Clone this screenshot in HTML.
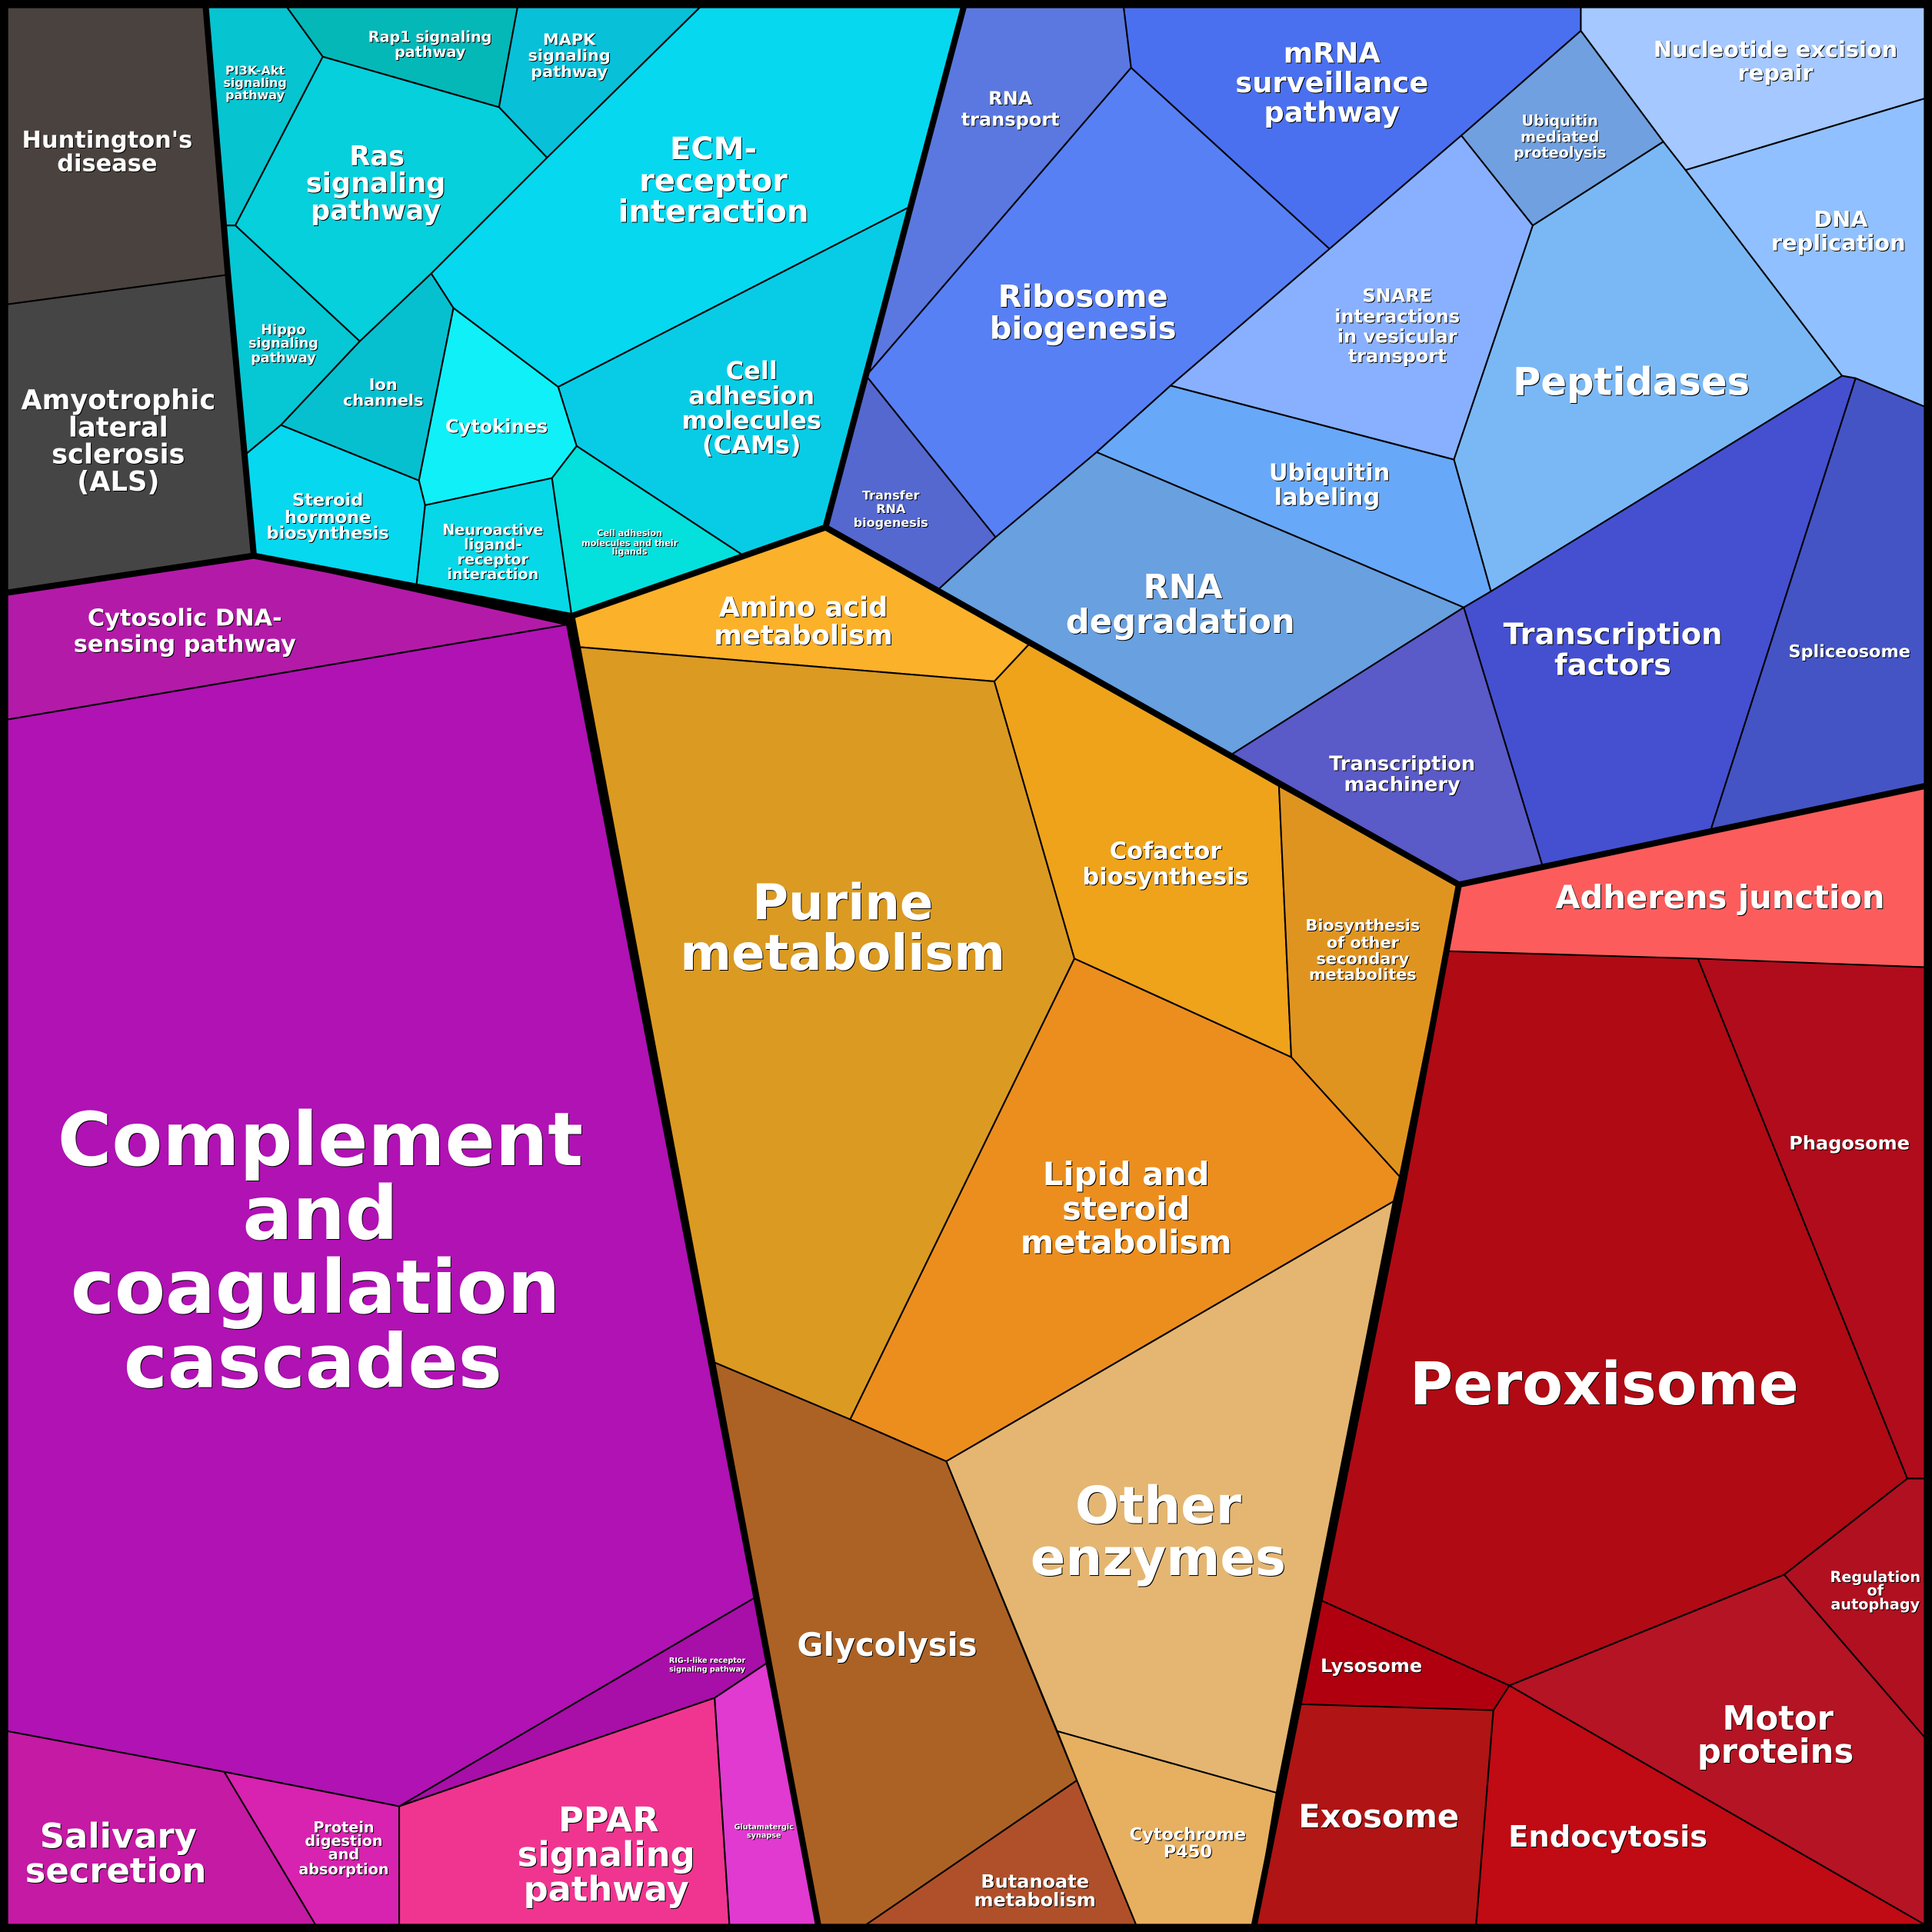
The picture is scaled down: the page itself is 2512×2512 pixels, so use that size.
<!DOCTYPE html>
<html><head><meta charset="utf-8"><style>
html,body{margin:0;padding:0;background:#000;}
svg{display:block;}
text{font-family:"DejaVu Sans","Liberation Sans",sans-serif;font-weight:bold;fill:#fff;text-anchor:middle;dominant-baseline:central;text-shadow:1px 1px 0 #000;}
.t polygon{stroke:#000;stroke-width:1.3;stroke-linejoin:round;}
.g{fill:none;stroke:#000;stroke-width:5;stroke-linejoin:round;}
</style></head><body>
<svg width="2512" height="2512" viewBox="0 0 1568 1568" xmlns="http://www.w3.org/2000/svg">
<rect width="1568" height="1568" fill="#000"/>
<g class="t">
<polygon fill="#4a423e" points="6,6 167,6 185,223 6,247"/>
<polygon fill="#454545" points="6,247 185,223 206,451 6,481"/>
<polygon fill="#06c4d0" points="167,6 233,6 262,46 191,183 182,183"/>
<polygon fill="#04b8b8" points="233,6 420,6 405,87 262,46"/>
<polygon fill="#08c0d8" points="420,6 568,6 444,128 405,87"/>
<polygon fill="#05d0dc" points="262,46 405,87 444,128 350,222 292,277 191,183"/>
<polygon fill="#05c8d4" points="182,183 191,183 292,277 228,345 199,369"/>
<polygon fill="#06d8f0" points="568,6 782,6 738,168 453,314 368,250 350,222 444,128"/>
<polygon fill="#08cce6" points="738,168 670,428 602,450 468,362 453,314"/>
<polygon fill="#06c0d0" points="292,277 350,222 368,250 340,390 228,345"/>
<polygon fill="#10f0f8" points="368,250 453,314 468,362 448,388 345,410 340,390"/>
<polygon fill="#06d8f0" points="199,369 228,345 340,390 345,410 338,475 206,451"/>
<polygon fill="#06d8e8" points="345,410 448,388 464,500 338,475"/>
<polygon fill="#04e0dc" points="448,388 468,362 602,450 670,428 464,500"/>
<polygon fill="#5a78e0" points="782,6 912,6 918,55 703,305"/>
<polygon fill="#4a70f0" points="912,6 1283,6 1283,25 1186,110 1079,202 918,55"/>
<polygon fill="#5880f5" points="918,55 1079,202 950,313 890,367 808,436 703,305"/>
<polygon fill="#5468d0" points="703,305 808,436 762,478 670,428"/>
<polygon fill="#70a0e0" points="1186,110 1283,25 1350,115 1244,183"/>
<polygon fill="#88b0ff" points="1079,202 1186,110 1244,183 1180,373 950,313"/>
<polygon fill="#7ab8f5" points="1244,183 1350,115 1368,138 1495,305 1210,480 1180,373"/>
<polygon fill="#a4c8ff" points="1283,6 1562,6 1562,80 1368,138 1350,115 1283,25"/>
<polygon fill="#90c0ff" points="1368,138 1562,80 1562,330 1506,307 1495,305"/>
<polygon fill="#68a8f8" points="950,313 1180,373 1210,480 1188,493 890,367"/>
<polygon fill="#68a0e0" points="890,367 1188,493 1000,612 762,478 808,436"/>
<polygon fill="#5a5ac8" points="1000,612 1188,493 1252,703 1184,718"/>
<polygon fill="#4450d0" points="1188,493 1210,480 1495,305 1506,307 1388,675 1252,703"/>
<polygon fill="#4454c4" points="1506,307 1562,330 1562,638 1388,675"/>
<polygon fill="#fbb12a" points="464,500 670,428 836,522 807,553 468,525"/>
<polygon fill="#db9a22" points="468,525 807,553 872,778 690,1152 578,1105"/>
<polygon fill="#eea31a" points="807,553 836,522 1038,638 1048,858 872,778"/>
<polygon fill="#e09420" points="1038,638 1184,718 1136,955 1048,858"/>
<polygon fill="#eb8e1e" points="872,778 1048,858 1136,955 1131,975 768,1186 690,1152"/>
<polygon fill="#e4b672" points="768,1186 1131,975 1036,1455 858,1405"/>
<polygon fill="#ac6224" points="578,1105 690,1152 768,1186 874,1445 703,1562 664,1562"/>
<polygon fill="#b0502a" points="703,1562 874,1445 922,1562"/>
<polygon fill="#e6b060" points="858,1405 1036,1455 1018,1562 922,1562 874,1445"/>
<polygon fill="#b31aa8" points="6,481 206,451 460,507 6,584"/>
<polygon fill="#b012b4" points="6,584 460,507 612,1297 324,1466 182,1438 6,1405"/>
<polygon fill="#a80ea8" points="324,1466 612,1297 622,1350 580,1378"/>
<polygon fill="#c41aa4" points="6,1405 182,1438 256,1562 6,1562"/>
<polygon fill="#d822b0" points="182,1438 324,1466 324,1562 256,1562"/>
<polygon fill="#f03590" points="324,1466 580,1378 592,1562 324,1562"/>
<polygon fill="#e03ad0" points="580,1378 622,1350 664,1562 592,1562"/>
<polygon fill="#fc5c5c" points="1184,718 1562,638 1562,785 1175,772"/>
<polygon fill="#b00a14" points="1175,772 1378,778 1548,1200 1448,1278 1225,1368 1068,1297 1136,975"/>
<polygon fill="#b00c1c" points="1378,778 1562,785 1562,1200 1548,1200"/>
<polygon fill="#b01020" points="1548,1200 1562,1200 1562,1410 1448,1278"/>
<polygon fill="#b41424" points="1225,1368 1448,1278 1562,1410 1562,1562"/>
<polygon fill="#c00a14" points="1212,1388 1225,1368 1562,1562 1198,1562"/>
<polygon fill="#b00010" points="1068,1297 1225,1368 1212,1388 1052,1383"/>
<polygon fill="#b01414" points="1052,1383 1212,1388 1198,1562 1018,1562"/>
</g>
<polyline class="g" points="6,481 206,451 185,223 167,6"/>
<polyline class="g" points="206,451 464,500 670,428 782,6"/>
<polyline class="g" points="464,500 664,1562"/>
<polyline class="g" points="670,428 1184,718 1562,638"/>
<polyline class="g" points="1184,718 1136,975 1018,1562"/>
<rect x="3" y="3" width="1562" height="1562" fill="none" stroke="#000" stroke-width="7"/>
<g font-size="19"><text x="87" y="114">Huntington's</text><text x="87" y="133">disease</text></g>
<g font-size="22"><text x="96" y="325">Amyotrophic</text><text x="96" y="347">lateral</text><text x="96" y="369">sclerosis</text><text x="96" y="391">(ALS)</text></g>
<g font-size="19"><text x="150" y="502">Cytosolic DNA-</text><text x="150" y="523">sensing pathway</text></g>
<g font-size="60"><text x="260" y="925">Complement</text><text x="260" y="985">and</text><text x="256" y="1045">coagulation</text><text x="254" y="1105">cascades</text></g>
<g font-size="28"><text x="96" y="1490">Salivary</text><text x="94" y="1518">secretion</text></g>
<g font-size="12"><text x="279" y="1483">Protein</text><text x="279" y="1494">digestion</text><text x="279" y="1505">and</text><text x="279" y="1517">absorption</text></g>
<g font-size="28"><text x="494" y="1477">PPAR</text><text x="492" y="1505">signaling</text><text x="492" y="1533">pathway</text></g>
<g font-size="6"><text x="620" y="1483">Glutamatergic</text><text x="620" y="1490">synapse</text></g>
<g font-size="6"><text x="574" y="1348">RIG-I-like receptor</text><text x="574" y="1355">signaling pathway</text></g>
<g font-size="10"><text x="207" y="57">PI3K-Akt</text><text x="207" y="67">signaling</text><text x="207" y="77">pathway</text></g>
<g font-size="12"><text x="349" y="30">Rap1 signaling</text><text x="349" y="42">pathway</text></g>
<g font-size="13"><text x="462" y="32">MAPK</text><text x="462" y="45">signaling</text><text x="462" y="58">pathway</text></g>
<g font-size="22"><text x="306" y="127">Ras</text><text x="305" y="149">signaling</text><text x="305" y="171">pathway</text></g>
<g font-size="11"><text x="230" y="268">Hippo</text><text x="230" y="279">signaling</text><text x="230" y="291">pathway</text></g>
<g font-size="25"><text x="579" y="121">ECM-</text><text x="579" y="147">receptor</text><text x="579" y="172">interaction</text></g>
<g font-size="20"><text x="610" y="301">Cell</text><text x="610" y="321">adhesion</text><text x="610" y="341">molecules</text><text x="610" y="361">(CAMs)</text></g>
<g font-size="13"><text x="311" y="312">Ion</text><text x="311" y="325">channels</text></g>
<g font-size="15"><text x="403" y="346">Cytokines</text></g>
<g font-size="14"><text x="266" y="406">Steroid</text><text x="266" y="420">hormone</text><text x="266" y="433">biosynthesis</text></g>
<g font-size="12"><text x="400" y="430">Neuroactive</text><text x="400" y="442">ligand-</text><text x="400" y="454">receptor</text><text x="400" y="466">interaction</text></g>
<g font-size="7"><text x="511" y="433">Cell adhesion</text><text x="511" y="441">molecules and their</text><text x="511" y="448">ligands</text></g>
<g font-size="15"><text x="820" y="80">RNA</text><text x="820" y="97">transport</text></g>
<g font-size="23"><text x="1081" y="43">mRNA</text><text x="1081" y="67">surveillance</text><text x="1081" y="91">pathway</text></g>
<g font-size="25"><text x="879" y="241">Ribosome</text><text x="879" y="267">biogenesis</text></g>
<g font-size="10"><text x="723" y="402">Transfer</text><text x="723" y="413">RNA</text><text x="723" y="424">biogenesis</text></g>
<g font-size="12"><text x="1266" y="98">Ubiquitin</text><text x="1266" y="111">mediated</text><text x="1266" y="124">proteolysis</text></g>
<g font-size="15"><text x="1134" y="240">SNARE</text><text x="1134" y="257">interactions</text><text x="1134" y="273">in vesicular</text><text x="1134" y="289">transport</text></g>
<g font-size="31"><text x="1324" y="310">Peptidases</text></g>
<g font-size="18"><text x="1441" y="40">Nucleotide excision</text><text x="1441" y="59">repair</text></g>
<g font-size="18"><text x="1494" y="178">DNA</text><text x="1492" y="197">replication</text></g>
<g font-size="19"><text x="1079" y="384">Ubiquitin</text><text x="1077" y="404">labeling</text></g>
<g font-size="27"><text x="960" y="477">RNA</text><text x="958" y="505">degradation</text></g>
<g font-size="24"><text x="1309" y="515">Transcription</text><text x="1309" y="540">factors</text></g>
<g font-size="14"><text x="1501" y="529">Spliceosome</text></g>
<g font-size="16"><text x="1138" y="620">Transcription</text><text x="1138" y="637">machinery</text></g>
<g font-size="22"><text x="652" y="493">Amino acid</text><text x="652" y="516">metabolism</text></g>
<g font-size="40"><text x="684" y="733">Purine</text><text x="684" y="774">metabolism</text></g>
<g font-size="19"><text x="946" y="691">Cofactor</text><text x="946" y="712">biosynthesis</text></g>
<g font-size="13"><text x="1106" y="751">Biosynthesis</text><text x="1106" y="765">of other</text><text x="1106" y="778">secondary</text><text x="1106" y="791">metabolites</text></g>
<g font-size="26"><text x="914" y="953">Lipid and</text><text x="914" y="981">steroid</text><text x="914" y="1008">metabolism</text></g>
<g font-size="42"><text x="940" y="1222">Other</text><text x="940" y="1264">enzymes</text></g>
<g font-size="26"><text x="720" y="1335">Glycolysis</text></g>
<g font-size="15"><text x="840" y="1527">Butanoate</text><text x="840" y="1542">metabolism</text></g>
<g font-size="14"><text x="964" y="1489">Cytochrome</text><text x="964" y="1503">P450</text></g>
<g font-size="26"><text x="1396" y="728">Adherens junction</text></g>
<g font-size="48"><text x="1302" y="1124">Peroxisome</text></g>
<g font-size="15"><text x="1501" y="928">Phagosome</text></g>
<g font-size="12"><text x="1522" y="1280">Regulation</text><text x="1522" y="1291">of</text><text x="1522" y="1302">autophagy</text></g>
<g font-size="27"><text x="1443" y="1395">Motor</text><text x="1441" y="1422">proteins</text></g>
<g font-size="15"><text x="1113" y="1352">Lysosome</text></g>
<g font-size="26"><text x="1119" y="1474">Exosome</text></g>
<g font-size="24"><text x="1305" y="1491">Endocytosis</text></g>
</svg>
</body></html>
